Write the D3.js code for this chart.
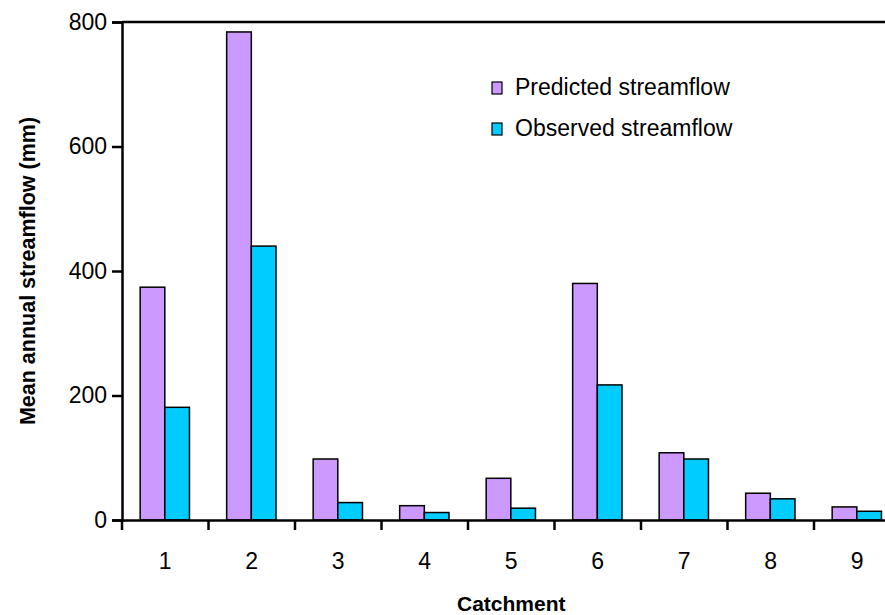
<!DOCTYPE html>
<html>
<head>
<meta charset="utf-8">
<script src="https://cdn.jsdelivr.net/npm/d3@7"></script>
<style>
  body { margin: 0; background: #fff; }
  svg { display: block; font-family: Arial, "Liberation Sans", sans-serif; }
</style>
</head>
<body>
<svg id="chart" width="885" height="615"></svg>
<script>
// data
let catchments = ["1", "2", "3", "4", "5", "6", "7", "8", "9"];
let seriesNames = ["Predicted streamflow", "Observed streamflow"];
let predicted = [374, 784, 98, 23, 67, 380, 108, 43, 21];
let observed = [181, 440, 28, 12, 19, 217, 98, 34, 14];
let yTicks = [0, 200, 400, 600, 800];
let colors = ["#CC99FF", "#00CCFF"];

let svg = d3.select("#chart");
let plot = {left: 122, right: 900.5, top: 22, bottom: 520};

let x0 = d3.scaleBand()
    .domain(catchments)
    .range([plot.left, plot.right])
    .padding(0);

let bw = x0.bandwidth();
let x1 = d3.scaleBand()
    .domain(seriesNames)
    .range([bw * 0.21, bw * 0.78])
    .padding(0);

let y = d3.scaleLinear()
    .domain([0, 800])
    .range([plot.bottom, plot.top]);

let color = d3.scaleOrdinal().domain(seriesNames).range(colors);

let rows = catchments.map(function(c, i){
    return {catchment: c, values: [
        {name: seriesNames[0], value: predicted[i]},
        {name: seriesNames[1], value: observed[i]}
    ]};
});

// bars
let groups = svg.append("g").selectAll("g")
    .data(rows)
    .enter().append("g")
    .attr("transform", d => "translate(" + x0(d.catchment) + ",0)");

groups.selectAll("rect")
    .data(d => d.values)
    .enter().append("rect")
    .attr("x", d => x1(d.name))
    .attr("y", d => y(d.value))
    .attr("width", x1.bandwidth())
    .attr("height", d => y(0) - y(d.value))
    .attr("fill", d => color(d.name))
    .attr("stroke", "#000")
    .attr("stroke-width", 1.5);

// top border of plot area
svg.append("line")
    .attr("x1", plot.left).attr("x2", plot.right)
    .attr("y1", y(800)).attr("y2", y(800))
    .attr("stroke", "#000").attr("stroke-width", 2.5);

// y axis
let yAxis = svg.append("g")
    .attr("transform", "translate(" + plot.left + ",0)")
    .call(d3.axisLeft(y).tickValues(yTicks).tickSize(10).tickPadding(5).tickFormat(d3.format("d")));
yAxis.select(".domain").attr("stroke-width", 2.5);
yAxis.selectAll(".tick line").attr("stroke-width", 2.5);
yAxis.selectAll("text").attr("font-size", 23).attr("fill", "#000").style("font-family", "Arial, 'Liberation Sans', sans-serif");

// x axis: labels at centers, ticks at category boundaries
let xAxis = svg.append("g")
    .attr("transform", "translate(0," + plot.bottom + ")")
    .call(d3.axisBottom(x0).tickSize(0).tickPadding(33));
xAxis.select(".domain").attr("stroke-width", 2.5);
xAxis.selectAll("text").attr("font-size", 23).attr("fill", "#000").style("font-family", "Arial, 'Liberation Sans', sans-serif");

let bounds = catchments.map(c => x0(c)).concat([x0.range()[1]]);
xAxis.selectAll(".bound")
    .data(bounds)
    .enter().append("line")
    .attr("class", "bound")
    .attr("x1", d => d).attr("x2", d => d)
    .attr("y1", 0).attr("y2", 10)
    .attr("stroke", "#000").attr("stroke-width", 2.5);

// axis titles
svg.append("text")
    .attr("x", (plot.left + plot.right) / 2)
    .attr("y", 611)
    .attr("text-anchor", "middle")
    .attr("font-size", 21)
    .attr("font-weight", "bold")
    .text("Catchment");

svg.append("text")
    .attr("transform", "translate(28," + (plot.top + plot.bottom) / 2 + ") rotate(-90)")
    .attr("text-anchor", "middle")
    .attr("dominant-baseline", "central")
    .attr("font-size", 21.5)
    .attr("font-weight", "bold")
    .text("Mean annual streamflow (mm)");

// legend
let legend = svg.append("g").attr("transform", "translate(492,82)");
let items = legend.selectAll("g")
    .data(seriesNames)
    .enter().append("g")
    .attr("transform", (d, i) => "translate(0," + i * 41 + ")");
items.append("rect")
    .attr("width", 10).attr("height", 12)
    .attr("fill", d => color(d))
    .attr("stroke", "#000").attr("stroke-width", 1.2);
items.append("text")
    .attr("x", 23).attr("y", 13)
    .attr("font-size", 23)
    .text(d => d);
</script>
</body>
</html>
